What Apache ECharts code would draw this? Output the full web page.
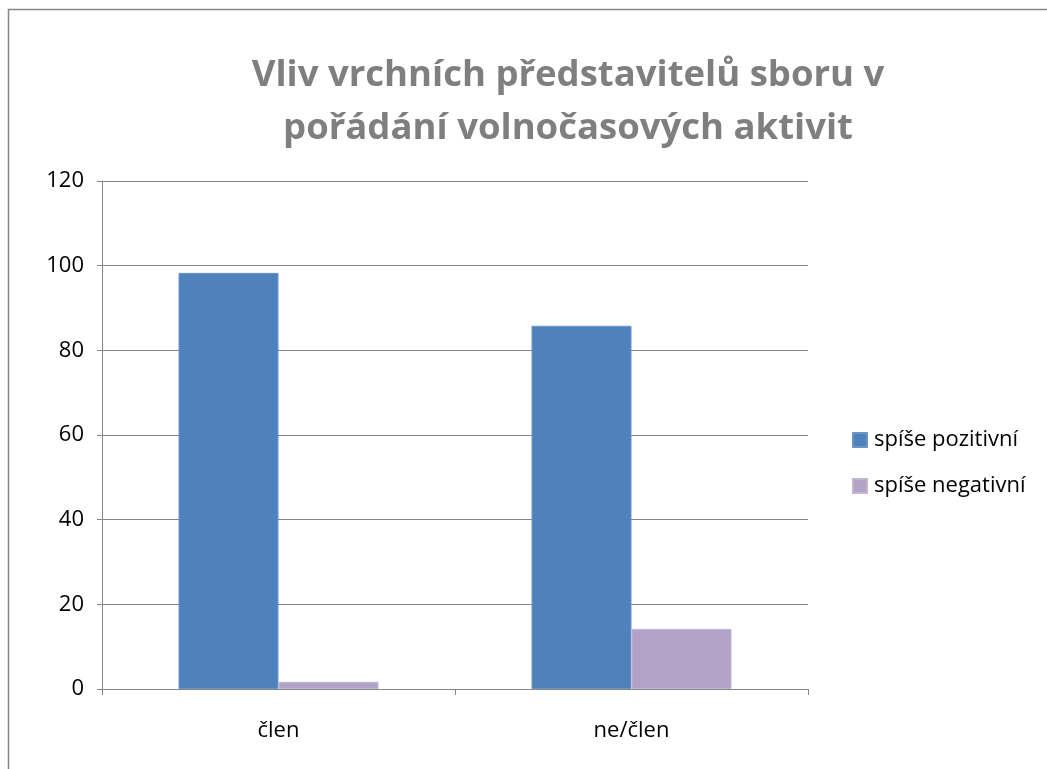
<!DOCTYPE html>
<html>
<head>
<meta charset="utf-8">
<script src="https://cdn.jsdelivr.net/npm/echarts@6/dist/echarts.min.js"></script>
<style>
  html, body { margin: 0; padding: 0; background: #fff; }
  #main { width: 1047px; height: 769px; }
</style>
</head>
<body>
<div id="main"></div>
<script>
var categories = ['člen', 'ne/člen'];
var seriesNames = ['spíše pozitivní', 'spíše negativní'];
var positive = [98.3, 85.8];
var negative = [1.7, 14.2];

(function () {
  var myChart = echarts.init(document.getElementById('main'));
  var font = 'Open Sans';

  var option = {
    animation: false,
    title: {
      text: 'Vliv vrchních představitelů sboru v\npořádání volnočasových aktivit',
      left: 563,
      top: 44,
      textAlign: 'center',
      textStyle: {
        fontFamily: font,
        fontWeight: 'bold',
        fontSize: 36.5,
        lineHeight: 53,
        color: '#7f7f7f'
      }
    },
    graphic: [
      {
        type: 'rect',
        shape: { x: 8.5, y: 9.5, width: 1100, height: 800 },
        style: { fill: 'none', stroke: '#868686', lineWidth: 1.5 },
        silent: true
      }
    ],
    legend: {
      orient: 'vertical',
      left: 847,
      top: 424,
      itemWidth: 14,
      itemHeight: 14,
      itemGap: 24,
      icon: 'rect',
      textStyle: { fontFamily: font, fontSize: 22, color: '#000', padding: [0, 0, 0, 2] },
      data: seriesNames
    },
    grid: { left: 102, right: 239, top: 181, bottom: 80 },
    xAxis: {
      type: 'category',
      data: categories,
      axisLine: { lineStyle: { color: '#868686', width: 1 } },
      axisTick: { show: true, length: 6, lineStyle: { color: '#868686' } },
      axisLabel: { fontFamily: font, fontSize: 22, color: '#000', margin: 31 }
    },
    yAxis: {
      type: 'value',
      min: 0,
      max: 120,
      interval: 20,
      axisLine: { show: true, lineStyle: { color: '#868686', width: 1 } },
      axisTick: { show: true, length: 5, lineStyle: { color: '#868686' } },
      splitLine: { lineStyle: { color: '#868686', width: 1 } },
      axisLabel: { fontFamily: font, fontSize: 22, color: '#000', margin: 18 }
    },
    series: [
      {
        name: seriesNames[0],
        type: 'bar',
        data: positive,
        barWidth: 100,
        barGap: '0%',
        itemStyle: { color: '#4f81bd', borderColor: '#6d95c8', borderWidth: 1 }
      },
      {
        name: seriesNames[1],
        type: 'bar',
        data: negative,
        barWidth: 100,
        barGap: '0%',
        itemStyle: { color: '#b3a2c7', borderColor: '#c3b5d4', borderWidth: 1 }
      }
    ]
  };

  myChart.setOption(option);
})();
</script>
</body>
</html>
